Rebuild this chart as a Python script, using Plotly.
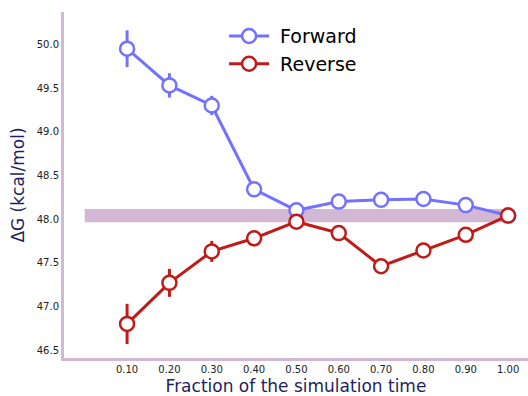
import plotly.graph_objects as go

# Fraction of simulation time used for each estimate
fraction = [0.10, 0.20, 0.30, 0.40, 0.50, 0.60, 0.70, 0.80, 0.90, 1.00]

# Forward estimates of the free energy (kcal/mol) and their errors
forward_dg = [49.95, 49.53, 49.30, 48.34, 48.10, 48.20, 48.22, 48.23, 48.16, 48.04]
forward_err = [0.21, 0.14, 0.11, 0.08, 0.05, 0.05, 0.05, 0.05, 0.05, 0.04]

# Reverse estimates of the free energy (kcal/mol) and their errors
reverse_dg = [46.80, 47.27, 47.63, 47.78, 47.97, 47.84, 47.46, 47.64, 47.82, 48.04]
reverse_err = [0.23, 0.16, 0.12, 0.09, 0.06, 0.05, 0.05, 0.05, 0.05, 0.04]

# Final estimate with its uncertainty, shown as a horizontal band
final_dg = 48.04
final_err = 0.075
band_x = [0.0, 1.0]

FWD = "#7272ff"
REV = "#c11b17"
SPINE = "#d2b8d4"
NAVY = "#1d1f5e"
FONT = "DejaVu Sans"

fig = go.Figure()

fig.add_trace(go.Scatter(
    x=band_x, y=[final_dg - final_err] * 2, mode="lines",
    line=dict(width=0, color=SPINE), showlegend=False, hoverinfo="skip"))
fig.add_trace(go.Scatter(
    x=band_x, y=[final_dg + final_err] * 2, mode="lines",
    line=dict(width=0, color=SPINE), fill="tonexty", fillcolor=SPINE,
    showlegend=False, hoverinfo="skip"))

for name, ys, errs, color in [("Forward", forward_dg, forward_err, FWD),
                               ("Reverse", reverse_dg, reverse_err, REV)]:
    fig.add_trace(go.Scatter(
        x=fraction, y=ys, name="\u00a0" + name, mode="lines+markers",
        line=dict(color=color, width=3),
        marker=dict(size=14, color="white", line=dict(color=color, width=2.5)),
        error_y=dict(type="data", array=errs, visible=True,
                     color=color, thickness=3, width=0),
    ))

fig.update_layout(
    width=528, height=396,
    margin=dict(l=64, r=0, t=12, b=38),
    paper_bgcolor="white", plot_bgcolor="white",
    font=dict(family=FONT, color="#222222"),
    showlegend=True,
    legend=dict(x=0.345, y=0.985, xanchor="left", yanchor="top",
                traceorder="normal",
                bgcolor="rgba(0,0,0,0)", font=dict(size=19, color="black"),
                itemwidth=40),
    xaxis=dict(
        range=[-0.049, 1.047], tickvals=fraction,
        ticktext=[f"{v:.2f}" for v in fraction],
        tickfont=dict(size=10, color="#222222"),
        showgrid=False, zeroline=False, ticks="",
        showline=True, linecolor=SPINE, linewidth=3,
        title=dict(text="Fraction of the simulation time",
                   font=dict(size=17, color=NAVY), standoff=9),
    ),
    yaxis=dict(
        range=[46.41, 50.37],
        tickvals=[46.5, 47.0, 47.5, 48.0, 48.5, 49.0, 49.5, 50.0],
        ticktext=["46.5", "47.0", "47.5", "48.0", "48.5", "49.0", "49.5", "50.0"],
        tickfont=dict(size=10, color="#222222"),
        showgrid=False, zeroline=False, ticks="",
        showline=True, linecolor=SPINE, linewidth=3,
        title=dict(text="ΔG (kcal/mol)", font=dict(size=17, color=NAVY), standoff=8),
    ),
)

fig.write_html("out.html")
